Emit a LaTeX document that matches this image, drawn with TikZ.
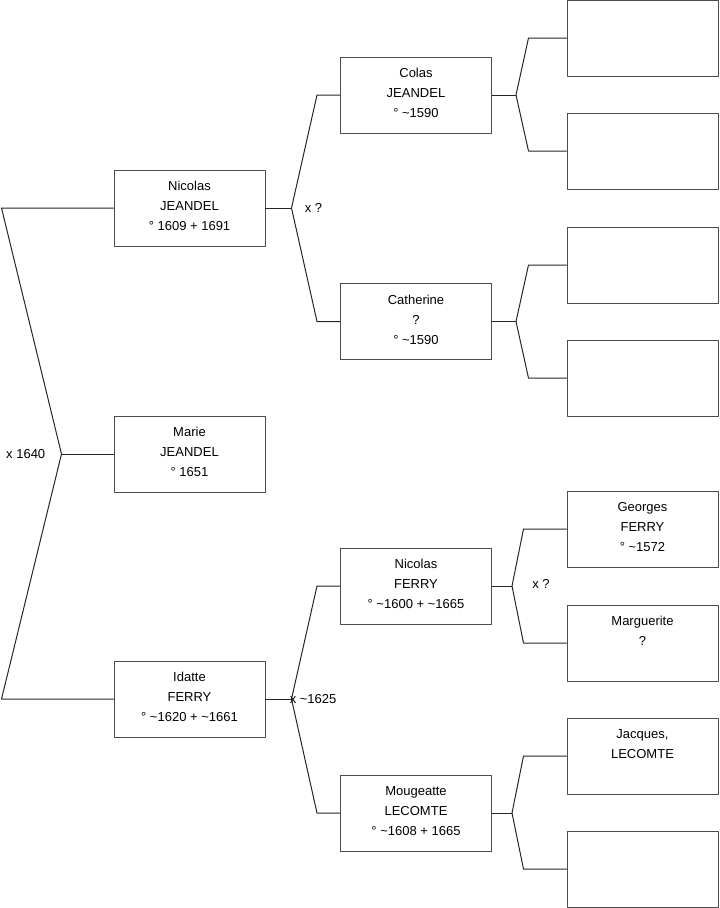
\documentclass[tikz,border=0pt]{standalone}
\usepackage{fontspec}
\setmainfont{Liberation Sans}
\newcommand{\entry}[1]{\parbox[c][57pt][t]{113pt}{\centering\rule{0pt}{15.5pt}#1}}

\begin{document}
\begin{tikzpicture}[x=0.75pt,y=-0.75pt,line cap=round,line join=round,
  font=\fontsize{9.75}{15}\selectfont,
  person/.style={draw=black!70,line width=0.75pt,minimum width=113.25pt,minimum height=57pt,inner sep=0pt},
  link/.style={draw=black!85,line width=0.75pt},
  marr/.style={inner sep=0pt}]
  \useasboundingbox (0,0) rectangle (719,908);

  % children generation
  \node[person] (nj) at (189.5,208) {\entry{Nicolas\\JEANDEL\\° 1609 + 1691}};
  \node[person] (mj) at (189.5,454) {\entry{Marie\\JEANDEL\\° 1651}};
  \node[person] (if) at (189.5,699) {\entry{Idatte\\FERRY\\° \textasciitilde1620 + \textasciitilde1661}};

  % parents
  \node[person] (cj) at (416,95) {\entry{Colas\\JEANDEL\\° \textasciitilde1590}};
  \node[person] (ca) at (416,321.5) {\entry{Catherine\\?\\° \textasciitilde1590}};
  \node[person] (nf) at (416,586) {\entry{Nicolas\\FERRY\\° \textasciitilde1600 + \textasciitilde1665}};
  \node[person] (ml) at (416,813) {\entry{Mougeatte\\LECOMTE\\° \textasciitilde1608 + 1665}};

  % grandparents
  \node[person] (cjf) at (642.5,38) {\entry{}};
  \node[person] (cjm) at (642.5,151) {\entry{}};
  \node[person] (caf) at (642.5,265) {\entry{}};
  \node[person] (cam) at (642.5,378) {\entry{}};
  \node[person] (gf) at (642.5,529) {\entry{Georges\\FERRY\\° \textasciitilde1572}};
  \node[person] (mg) at (642.5,643) {\entry{Marguerite\\?}};
  \node[person] (jl) at (642.5,756) {\entry{Jacques,\\LECOMTE}};
  \node[person] (mlm) at (642.5,869) {\entry{}};

  % marriage points
  \coordinate (x0) at ([xshift=-39pt]mj.west);
  \coordinate (x1) at ([xshift=19.5pt]nj.east);
  \coordinate (x2) at ([xshift=19.5pt]if.east);
  \coordinate (x3) at ([xshift=18pt]cj.east);
  \coordinate (x4) at ([xshift=18pt]ca.east);
  \coordinate (x5) at ([xshift=15pt]nf.east);
  \coordinate (x6) at ([xshift=15pt]ml.east);

  % links
  \draw[link] (nj.west) -- ([xshift=-84pt]nj.west) -- (x0) -- ([xshift=-84pt]if.west) -- (if.west);
  \draw[link] (x0) -- (mj.west);
  \draw[link] (nj.east) -- (x1);
  \draw[link] (cj.west) -- ([xshift=-17.25pt]cj.west) -- (x1) -- ([xshift=-17.25pt]ca.west) -- (ca.west);
  \draw[link] (if.east) -- (x2);
  \draw[link] (nf.west) -- ([xshift=-17.25pt]nf.west) -- (x2) -- ([xshift=-17.25pt]ml.west) -- (ml.west);
  \draw[link] (cj.east) -- (x3);
  \draw[link] (cjf.west) -- ([xshift=-28.5pt]cjf.west) -- (x3) -- ([xshift=-28.5pt]cjm.west) -- (cjm.west);
  \draw[link] (ca.east) -- (x4);
  \draw[link] (caf.west) -- ([xshift=-28.5pt]caf.west) -- (x4) -- ([xshift=-28.5pt]cam.west) -- (cam.west);
  \draw[link] (nf.east) -- (x5);
  \draw[link] (gf.west) -- ([xshift=-32.25pt]gf.west) -- (x5) -- ([xshift=-32.25pt]mg.west) -- (mg.west);
  \draw[link] (ml.east) -- (x6);
  \draw[link] (jl.west) -- ([xshift=-32.25pt]jl.west) -- (x6) -- ([xshift=-32.25pt]mlm.west) -- (mlm.west);

  % marriage labels
  \node[marr,anchor=east] (m0) at ([xshift=-12pt]x0) {x 1640};
  \node[marr,anchor=west] (m1) at ([xshift=9.75pt]x1) {x ?};
  \node[marr,anchor=west] (m2) at ([xshift=-1.5pt]x2) {x \textasciitilde1625};
  \node[marr,anchor=west] (m5) at ([xshift=15pt,yshift=1.5pt]x5) {x ?};
\end{tikzpicture}
\end{document}
